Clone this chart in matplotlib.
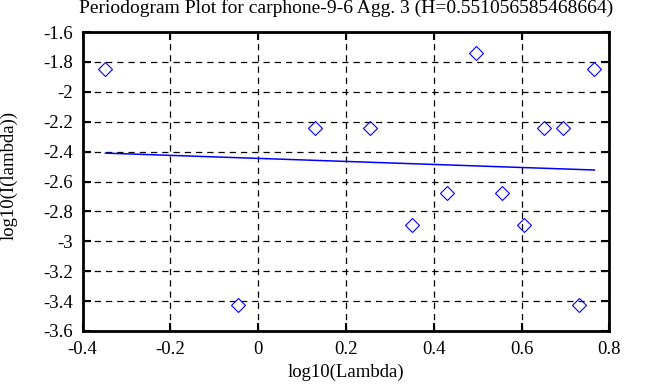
import matplotlib
matplotlib.use("Agg")
import matplotlib.pyplot as plt
import numpy as np

# ---- data ----
log_lambda = [-0.348, -0.047, 0.129, 0.254, 0.351, 0.430, 0.497,
              0.555, 0.606, 0.652, 0.694, 0.731, 0.766]
log_I = [-1.845, -3.424, -2.242, -2.242, -2.891, -2.678, -1.738,
         -2.678, -2.891, -2.242, -2.242, -3.424, -1.845]
fit_x = [-0.348, 0.766]
fit_y = [-2.410, -2.523]
xticks = [-0.4, -0.2, 0, 0.2, 0.4, 0.6, 0.8]
yticks = [-3.6, -3.4, -3.2, -3, -2.8, -2.6, -2.4, -2.2, -2, -1.8, -1.6]
TITLE = "Periodogram Plot for carphone-9-6 Agg. 3 (H=0.551056585468664)"

plt.rcParams.update({"font.family": "Liberation Serif", "font.size": 13.5})

fig = plt.figure(figsize=(6.63, 3.87), dpi=100)
ax = fig.add_axes([0.1246, 0.145, 0.7944, 0.772])

ax.plot(log_lambda, log_I, linestyle="none", marker="D", ms=7, mfc="none",
        mec="blue", mew=0.8)
ax.plot(fit_x, fit_y, color="blue", lw=1.1)

ax.set_xlim(-0.4, 0.8)
ax.set_ylim(-3.6, -1.6)
ax.set_xticks(xticks)
ax.set_yticks(yticks)
ax.set_xticklabels([f"{v:g}" for v in xticks])
ax.set_yticklabels([f"{v:g}" for v in yticks])
ax.grid(True, color="black", linestyle=(0, (5, 4)), linewidth=0.9)
ax.tick_params(direction="in", length=5.5, width=1.5, top=True, right=True, pad=7)
for s in ax.spines.values():
    s.set_linewidth(2)

ax.set_title(TITLE, fontsize=14, pad=14)
ax.set_xlabel("log10(Lambda)", va="top")
ax.xaxis.set_label_coords(0.5, -0.11)
ax.set_ylabel("log10(I(lambda))")
ax.yaxis.set_label_coords(-0.123, 0.52)

fig.savefig("out.png", dpi=100)
